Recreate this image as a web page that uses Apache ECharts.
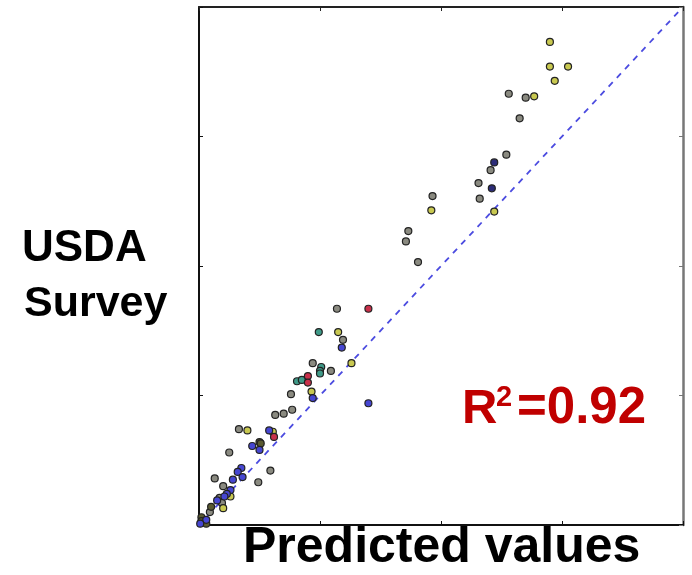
<!DOCTYPE html>
<html>
<head>
<meta charset="utf-8">
<script src="https://cdn.jsdelivr.net/npm/echarts@6/dist/echarts.min.js"></script>
<style>
  html, body { margin: 0; padding: 0; background: #fff; }
  #chart { width: 692px; height: 575px; }
</style>
</head>
<body>
<div id="chart"></div>
<script>
// axis ticks (no readable labels in the source)
var axisMin = 0, axisMax = 4, axisStep = 1;

// 1:1 reference line
var refLine = [0, 3.96];

// point groups: [predicted, survey]
var yellowX = [2.90, 2.90, 3.05, 2.94, 2.77, 2.44, 1.92, 1.15, 1.26, 0.93, 0.40, 0.61, 0.26, 0.20];
var yellowY = [3.73, 3.54, 3.54, 3.43, 3.31, 2.42, 2.43, 1.49, 1.25, 1.03, 0.73, 0.72, 0.22, 0.13];

var grayX = [2.56, 2.70, 2.65, 2.54, 2.41, 2.31, 2.32, 1.93, 1.73, 1.71, 1.81, 1.14, 1.19, 0.94, 1.09, 0.76, 0.63, 0.70, 0.77, 0.33, 0.25, 0.59, 0.13, 0.20, 0.17, 0.19, 0.09, 0.49];
var grayY = [3.33, 3.30, 3.14, 2.86, 2.74, 2.64, 2.52, 2.54, 2.27, 2.19, 2.03, 1.67, 1.43, 1.25, 1.19, 1.01, 0.85, 0.86, 0.89, 0.74, 0.56, 0.42, 0.36, 0.30, 0.21, 0.17, 0.10, 0.33];

var oliveX = [0.50, 0.51, 0.10, 0.02, 0.02, 0.06];
var oliveY = [0.64, 0.63, 0.14, 0.06, 0.03, 0.01];

var navyX = [2.44, 2.42];
var navyY = [2.80, 2.60];

var blueX = [1.18, 0.94, 1.40, 0.58, 0.44, 0.50, 0.35, 0.32, 0.36, 0.28, 0.26, 0.23, 0.21, 0.15, 0.06, 0.01];
var blueY = [1.37, 0.98, 0.94, 0.73, 0.61, 0.58, 0.44, 0.41, 0.37, 0.35, 0.27, 0.24, 0.22, 0.19, 0.04, 0.01];

var tealX = [0.99, 1.01, 1.00, 1.00, 0.81, 0.85];
var tealY = [1.49, 1.22, 1.19, 1.17, 1.11, 1.12];

var redX = [1.40, 0.90, 0.90, 0.62];
var redY = [1.67, 1.15, 1.10, 0.68];

function pairs(xs, ys) {
  return xs.map(function (v, i) { return [v, ys[i]]; });
}

function pts(name, xs, ys, fill) {
  return {
    name: name,
    type: 'scatter',
    symbol: 'circle',
    symbolSize: 7,
    itemStyle: { color: fill, borderColor: '#222', borderWidth: 1.2, opacity: 1 },
    data: pairs(xs, ys),
    z: 3
  };
}

function label(txt, x, y, size, color) {
  return {
    type: 'text', x: x, y: y,
    style: {
      text: txt, font: 'bold ' + size + 'px "Liberation Sans", Arial, sans-serif',
      fill: color || '#000', align: 'left', verticalAlign: 'middle'
    }
  };
}

var myChart = echarts.init(document.getElementById('chart'));

var option = {
  backgroundColor: '#fff',
  animation: false,
  grid: { left: 199, right: 9, top: 7, bottom: 50 },
  xAxis: [
    {
      type: 'value', min: axisMin, max: axisMax, interval: axisStep,
      axisLine: { show: true, lineStyle: { color: '#111', width: 2 } },
      axisTick: { show: true, inside: true, length: 4, lineStyle: { color: '#111' } },
      axisLabel: { show: false },
      splitLine: { show: false }
    },
    {
      type: 'value', position: 'top', min: axisMin, max: axisMax, interval: axisStep,
      axisLine: { show: true, onZero: false, lineStyle: { color: '#222', width: 2 } },
      axisTick: { show: true, inside: true, length: 4, lineStyle: { color: '#222' } },
      axisLabel: { show: false },
      splitLine: { show: false }
    }
  ],
  yAxis: [
    {
      type: 'value', min: axisMin, max: axisMax, interval: axisStep,
      axisLine: { show: true, lineStyle: { color: '#111', width: 2 } },
      axisTick: { show: true, inside: true, length: 4, lineStyle: { color: '#111' } },
      axisLabel: { show: false },
      splitLine: { show: false }
    },
    {
      type: 'value', position: 'right', min: axisMin, max: axisMax, interval: axisStep,
      axisLine: { show: true, onZero: false, lineStyle: { color: '#777', width: 2.5 } },
      axisTick: { show: true, inside: true, length: 4, lineStyle: { color: '#777' } },
      axisLabel: { show: false },
      splitLine: { show: false }
    }
  ],
  series: [
    {
      name: '1:1',
      type: 'line',
      showSymbol: false,
      symbol: 'none',
      data: pairs(refLine, refLine),
      lineStyle: { color: '#4b4be0', width: 1.8, type: [6, 6] },
      z: 2
    },
    pts('gray', grayX, grayY, '#8a8a80'),
    pts('olive', oliveX, oliveY, '#5a5a30'),
    pts('yellow', yellowX, yellowY, '#c8c850'),
    pts('teal', tealX, tealY, '#3f9a88'),
    pts('red', redX, redY, '#c8304a'),
    pts('navy', navyX, navyY, '#2c2c78'),
    pts('blue', blueX, blueY, '#4646d2')
  ],
  graphic: [
    label('USDA', 22, 249, 44),
    label('Survey', 24, 304, 43),
    label('Predicted values', 243, 548, 50),
    label('R', 462, 409, 49, '#c00000'),
    label('2', 496, 398, 29, '#c00000'),
    label('=0.92', 517, 409, 51, '#c00000')
  ]
};

myChart.setOption(option, true);
</script>
</body>
</html>
